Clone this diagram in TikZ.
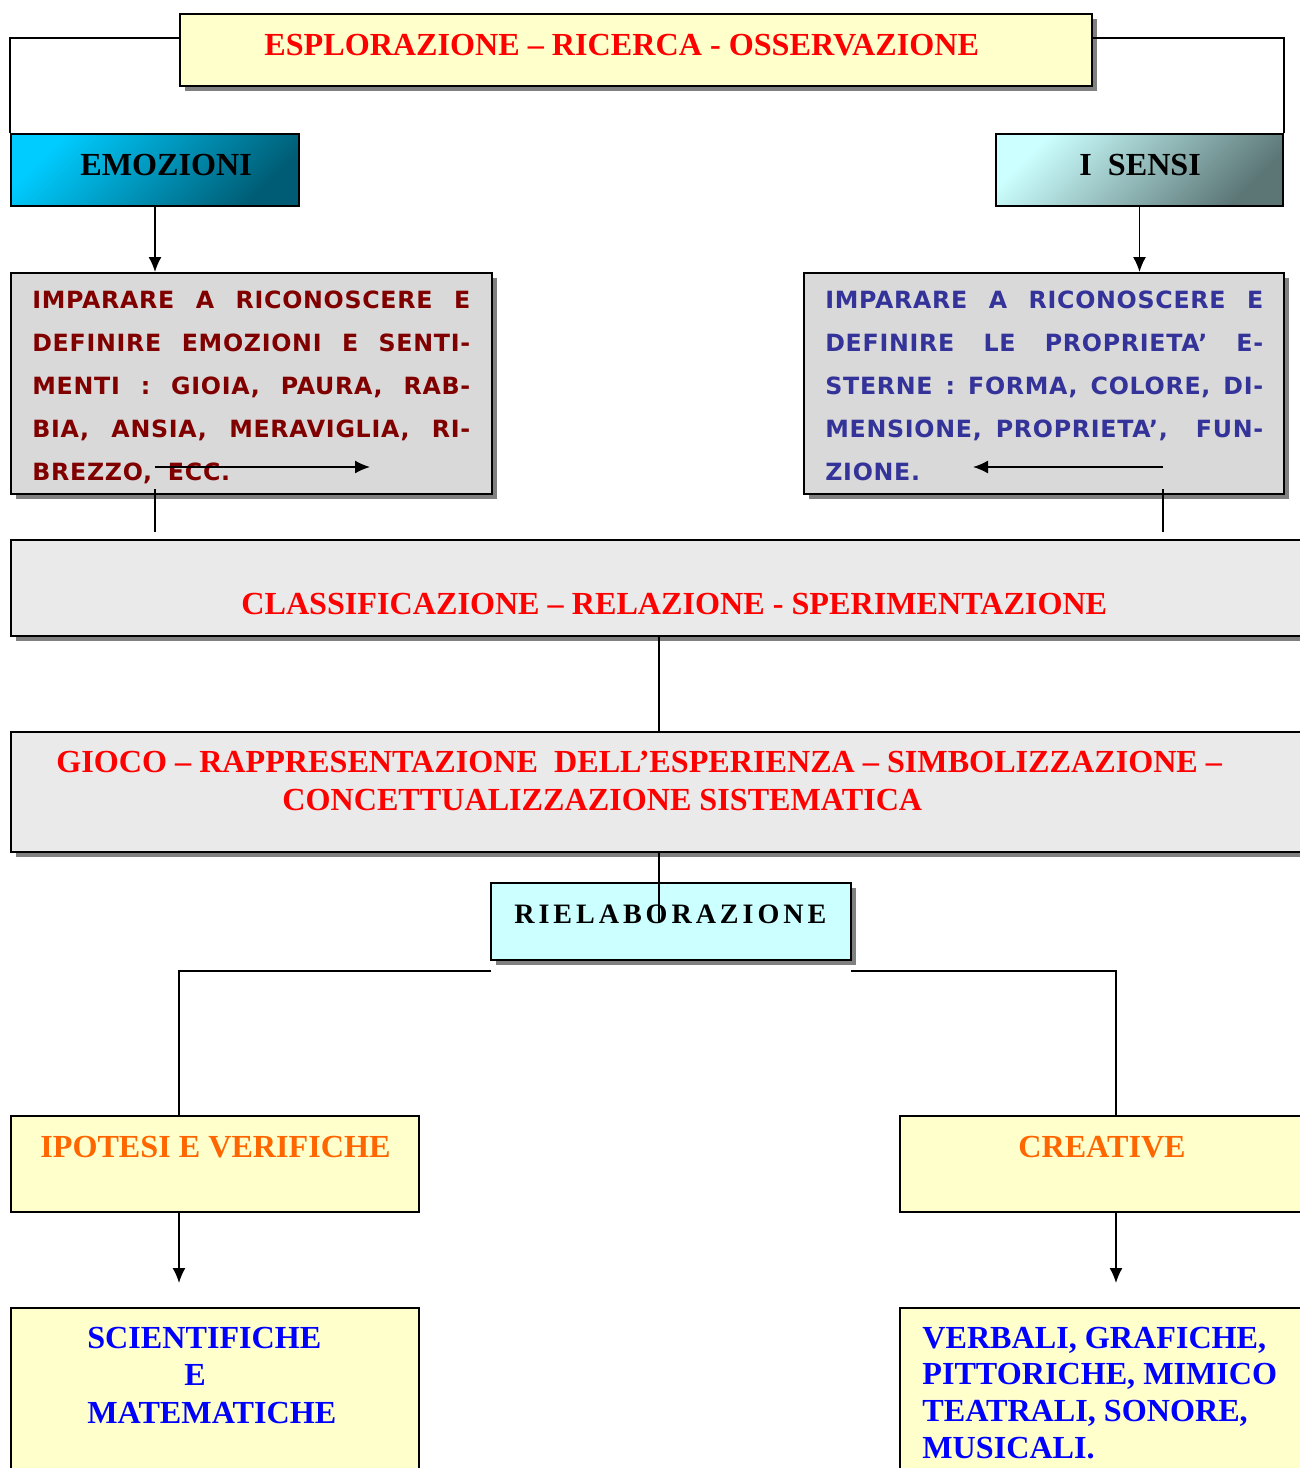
\documentclass[tikz,border=0pt]{standalone}
\usepackage{fontspec}
\setmainfont{Liberation Serif}
\newfontfamily\verdfont[LetterSpace=3]{DejaVu Sans}
\newfontfamily\spacedfont[LetterSpace=14]{Liberation Serif}
\usetikzlibrary{shadows,arrows.meta}
\definecolor{paleyellow}{HTML}{FFFFCC}
\definecolor{boxgray}{HTML}{D9D9D9}
\definecolor{lightgray}{HTML}{EAEAEA}
\definecolor{palecyan}{HTML}{CCFFFF}
\definecolor{shadowgray}{HTML}{808080}
\definecolor{titlered}{HTML}{FF0000}
\definecolor{darkred}{HTML}{800000}
\definecolor{navy}{HTML}{333399}
\definecolor{orangetxt}{HTML}{FF6600}
\definecolor{bluetxt}{HTML}{0000FF}
\definecolor{cyantop}{HTML}{00CCFF}
\definecolor{cyanbot}{HTML}{005C74}
\definecolor{sensitop}{HTML}{CCFFFF}
\definecolor{sensibot}{HTML}{5C7676}
\tikzset{
  box/.style={draw=black,line width=1.1pt,rectangle,inner sep=0pt},
  shadowed/.style={drop shadow={shadow xshift=0.1cm,shadow yshift=-0.1cm,opacity=1,fill=shadowgray}},
  title/.style={anchor=base west,inner sep=0pt,font=\fontsize{18.3}{22}\selectfont\bfseries},
  para/.style={anchor=base west,inner sep=0pt,text width=8.76cm,align=left,font=\verdfont\fontsize{13.5}{24.6}\selectfont\bfseries},
  conn/.style={line width=0.9pt},
  arr/.style={conn,-{Latex[length=0.3cm,width=0.26cm]}}
}
\newcommand{\jline}[1]{{\spaceskip=0pt\xspaceskip=0pt\makebox[8.76cm][s]{#1}}}
\begin{document}
\begin{tikzpicture}[x=0.02cm,y=-0.02cm]
\useasboundingbox (0,0) rectangle (1300,1468);
\node[box,shadowed,fill=paleyellow,minimum width=18.24cm,minimum height=1.44cm] (top) at (636,50) {};
\node[title,text=titlered] (toptxt) at (264,55) {ESPLORAZIONE -- RICERCA - OSSERVAZIONE};
\node[box,top color=cyantop,bottom color=cyanbot,shading angle=45,minimum width=5.76cm,minimum height=1.44cm] (emo) at (155,170) {};
\node[title] (emotxt) at (80,175) {EMOZIONI};
\node[box,top color=sensitop,bottom color=sensibot,shading angle=45,minimum width=5.74cm,minimum height=1.44cm] (sensi) at (1139.5,170) {};
\node[title] (sensitxt) at (1079,175) {I\ \ SENSI};
\draw[conn] ([yshift=0.24cm]top.west) -| (emo.north west);
\draw[conn] ([yshift=0.24cm]top.east) -| (sensi.north east);
\node[box,shadowed,fill=boxgray,minimum width=9.62cm,minimum height=4.42cm] (lbox) at (251.5,383.5) {};
\node[para,text=darkred] (ltxt) at (32,308) {\jline{IMPARARE A RICONOSCERE E}\\
\jline{DEFINIRE EMOZIONI E SENTI-}\\
\jline{MENTI : GIOIA, PAURA, RAB-}\\
\jline{BIA, ANSIA, MERAVIGLIA, RI-}\\
BREZZO,\ \ ECC.};
\node[box,shadowed,fill=boxgray,minimum width=9.6cm,minimum height=4.42cm] (rbox) at (1044,383.5) {};
\node[para,text=navy] (rtxt) at (825,308) {\jline{IMPARARE A RICONOSCERE E}\\
\jline{DEFINIRE LE PROPRIETA’ E-}\\
\jline{STERNE : FORMA, COLORE, DI-}\\
\jline{MENSIONE, PROPRIETA’, \ FUN-}\\
ZIONE.};
\draw[arr] (emo.south) -- (emo.south |- lbox.north);
\draw[arr] (sensi.south) -- (sensi.south |- rbox.north);
\coordinate (la) at (155,467);
\coordinate (lb) at (370,467);
\coordinate (ra) at (1163,467);
\coordinate (rb) at (973,467);
\draw[arr] (la) -- (lb);
\draw[arr] (ra) -- (rb);
\coordinate (ld) at (155,489);
\coordinate (le) at (155,532);
\coordinate (rd) at (1163,489);
\coordinate (re) at (1163,532);
\draw[conn] (ld) -- (le);
\draw[conn] (rd) -- (re);
\node[box,shadowed,fill=lightgray,minimum width=25.92cm,minimum height=1.92cm] (class) at (659,588) {};
\node[title,text=titlered] (classtxt) at (241,614) {CLASSIFICAZIONE -- RELAZIONE - SPERIMENTAZIONE};
\node[box,shadowed,fill=lightgray,minimum width=25.92cm,minimum height=2.4cm] (gioco) at (659,792) {};
\node[title,text=titlered] (giocotxt) at (56,772) {GIOCO -- RAPPRESENTAZIONE\ \ DELL’ESPERIENZA -- SIMBOLIZZAZIONE --};
\node[title,text=titlered] (giocotxtb) at (282,810) {CONCETTUALIZZAZIONE SISTEMATICA};
\draw[conn] (class.south) -- (gioco.north);
\node[box,shadowed,fill=palecyan,minimum width=7.2cm,minimum height=1.54cm] (riel) at (671,921.5) {};
\node[title,font=\spacedfont\fontsize{16}{19}\selectfont\bfseries] (rieltxt) at (514,923) {RIELABORAZIONE};
\coordinate (rieltip) at (659,923);
\draw[conn] (gioco.south) -- (rieltip);
\node[box,fill=paleyellow,minimum width=8.16cm,minimum height=1.92cm] (ipo) at (215,1164) {};
\node[title,text=orangetxt] (ipotxt) at (40,1157) {IPOTESI E VERIFICHE};
\node[box,fill=paleyellow,minimum width=8.64cm,minimum height=1.92cm] (crea) at (1116,1164) {};
\node[title,text=orangetxt] (creatxt) at (1018,1157) {CREATIVE};
\coordinate (bl) at (491,971);
\coordinate (br) at (851,971);
\draw[conn] (bl) -| ([xshift=-0.72cm]ipo.north);
\draw[conn] (br) -| (crea.north);
\coordinate (ipoend) at (179,1283);
\coordinate (creaend) at (1116,1283);
\draw[arr] ([xshift=-0.72cm]ipo.south) -- (ipoend);
\draw[arr] (crea.south) -- (creaend);
\node[box,fill=paleyellow,minimum width=8.16cm,minimum height=3.84cm] (scien) at (215,1404) {};
\node[title,text=bluetxt,align=left,font=\fontsize{18.3}{21.3}\selectfont\bfseries] (sciontxt) at (87,1423) {SCIENTIFICHE\\ \hspace*{1.94cm}E\\ MATEMATICHE};
\node[box,fill=paleyellow,minimum width=8.64cm,minimum height=3.84cm] (verb) at (1116,1404) {};
\node[title,text=bluetxt,align=left,font=\fontsize{18.3}{20.8}\selectfont\bfseries] (verbtxt) at (922,1458) {VERBALI, GRAFICHE,\\ PITTORICHE, MIMICO\\ TEATRALI, SONORE,\\ MUSICALI.};
\end{tikzpicture}
\end{document}
